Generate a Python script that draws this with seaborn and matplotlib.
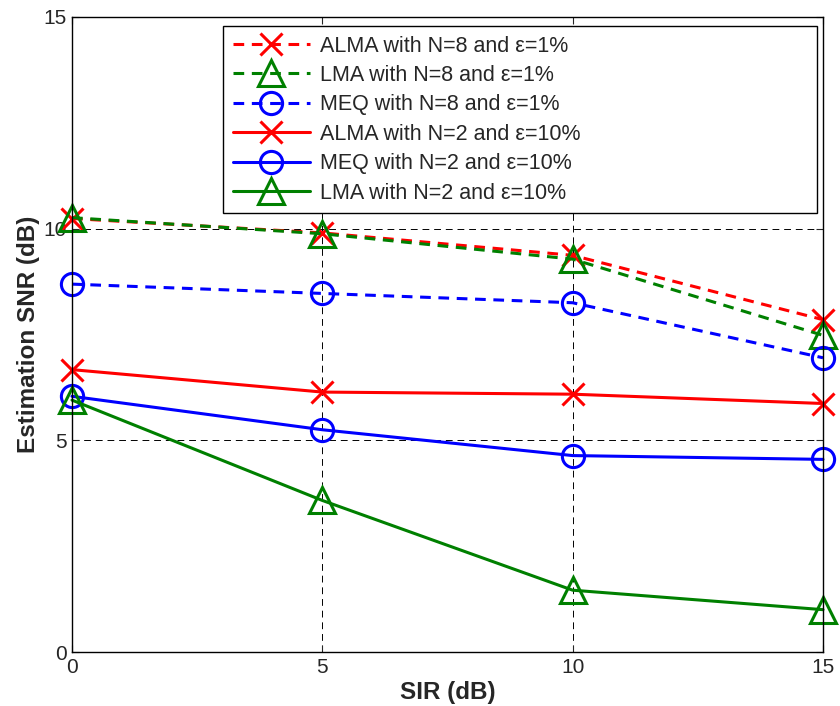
import numpy as np
import pandas as pd
import matplotlib
matplotlib.use("Agg")
import matplotlib.pyplot as plt
import seaborn as sns

# SIR values (dB)
sir = [0, 5, 10, 15]

# estimation SNR (dB)
alma_n8 = [10.24, 9.90, 9.37, 7.85]
lma_n8 = [10.26, 9.88, 9.28, 7.48]
meq_n8 = [8.69, 8.47, 8.25, 6.95]
alma_n2 = [6.67, 6.14, 6.09, 5.87]
meq_n2 = [6.04, 5.25, 4.64, 4.55]
lma_n2 = [5.95, 3.58, 1.46, 1.00]

labels = [
    "ALMA with N=8 and \u03b5=1%",
    "LMA with N=8 and \u03b5=1%",
    "MEQ with N=8 and \u03b5=1%",
    "ALMA with N=2 and \u03b5=10%",
    "MEQ with N=2 and \u03b5=10%",
    "LMA with N=2 and \u03b5=10%",
]
series = [alma_n8, lma_n8, meq_n8, alma_n2, meq_n2, lma_n2]
colors = ["#ff0000", "#008000", "#0000ff", "#ff0000", "#0000ff", "#008000"]
markers = ["x", "^", "o", "x", "o", "^"]
dashed = [True, True, True, False, False, False]

df = pd.concat(
    [pd.DataFrame({"SIR": sir, "SNR": vals, "label": lab}) for lab, vals in zip(labels, series)],
    ignore_index=True,
)

sns.set_style("white")
plt.rcParams["font.family"] = ["Liberation Sans", "DejaVu Sans"]

fig = plt.figure(figsize=(8.4, 7.06), dpi=100)
ax = fig.add_axes([72 / 840, 1 - 652 / 706, (823 - 72) / 840, (652 - 17) / 706])

for lab, col, mk, dsh in zip(labels, colors, markers, dashed):
    sub = df[df["label"] == lab]
    msize = 19 if mk == "^" else 16
    sns.lineplot(
        data=sub, x="SIR", y="SNR", ax=ax, color=col, label=lab,
        marker=mk, markersize=msize, markerfacecolor="none",
        markeredgecolor=col, markeredgewidth=2.2, linewidth=2.2,
        linestyle=(0, (3.5, 2.5)) if dsh else "-", clip_on=False,
    )

ax.set_xlim(0, 15)
ax.set_ylim(0, 15)
ax.set_xticks([0, 5, 10, 15])
ax.set_yticks([0, 5, 10, 15])
ax.grid(True, color="black", linestyle=(0, (7, 5)), linewidth=0.7)
ax.tick_params(direction="in", length=5, width=0.8, labelsize=15, pad=4,
               top=True, right=True, bottom=True, left=True)
for sp in ax.spines.values():
    sp.set_color("black")
    sp.set_linewidth(1.0)

ax.set_xlabel("SIR (dB)", fontsize=17.5, fontweight="bold", labelpad=3)
ax.set_ylabel("Estimation SNR (dB)", fontsize=17.5, fontweight="bold", labelpad=2)

leg = ax.legend(
    loc="upper left", bbox_to_anchor=(0.201, 0.696, 0.791, 0.290), mode="expand",
    borderaxespad=0, fontsize=15.5, labelspacing=0.39, handlelength=3.6,
    handletextpad=0.45, borderpad=0.45, fancybox=False, framealpha=1,
    edgecolor="black",
)
leg.get_frame().set_linewidth(1.0)

fig.savefig("out.png", dpi=100)
